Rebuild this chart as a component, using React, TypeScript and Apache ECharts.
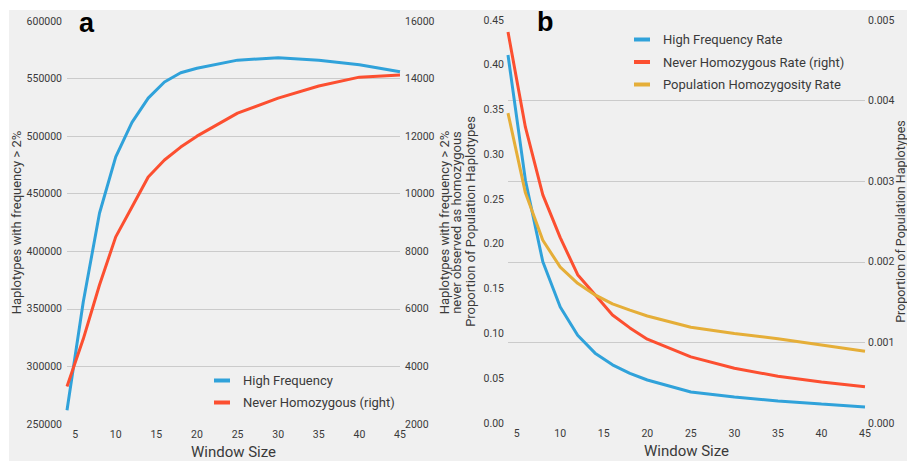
import React, { useEffect, useRef } from "react";
import * as echarts from "echarts";

const windowSizes = [4, 6, 8, 10, 12, 14, 16, 18, 20, 25, 30, 35, 40, 45];
const xTicks = [5, 10, 15, 20, 25, 30, 35, 40, 45];

const highFrequency = [262000, 356000, 433000, 482000, 512000, 533000, 547000, 555000, 559000, 566000, 568000, 566000, 562000, 556000];
const neverHomozygous = [3300, 4950, 6830, 8500, 9540, 10580, 11170, 11620, 12000, 12800, 13320, 13740, 14050, 14120];

const highFrequencyRate = [0.411, 0.271, 0.18, 0.1295, 0.098, 0.078, 0.065, 0.0555, 0.048, 0.0346, 0.029, 0.0246, 0.0212, 0.0179];
const neverHomozygousRate = [0.00485, 0.00367, 0.00283, 0.0023, 0.00184, 0.00159, 0.00134, 0.00118, 0.00104, 0.00082, 0.00068, 0.00058, 0.00051, 0.00045];
const populationHomozygosityRate = [0.346, 0.257, 0.204, 0.174, 0.156, 0.143, 0.133, 0.126, 0.1195, 0.107, 0.1, 0.094, 0.087, 0.08];

const BLUE = "#30a2da";
const RED = "#fc4f30";
const YELLOW = "#e5ae38";
const GRID = "#cbcbcb";
const LABEL = "#3a3a3a";
const FONT = "Roboto";

const pair = (ys: number[]) => windowSizes.map((x, i) => [x, ys[i]]);

export default function App() {
  const ref = useRef<HTMLDivElement>(null);
  useEffect(() => {
    document.body.style.margin = "0";
    const chart = echarts.init(ref.current!, null, { renderer: "svg" });
    const tickLabel = { color: LABEL, fontSize: 10.5, fontFamily: FONT };
    const xAxisCommon = {
      type: "value" as const,
      min: 4,
      max: 45,
      axisLine: { show: false },
      axisTick: { show: false },
      splitLine: { show: false },
      axisLabel: { ...tickLabel, margin: 5, customValues: xTicks, formatter: (v: number) => String(v) },
      name: "Window Size",
      nameLocation: "middle" as const,
      nameGap: 18,
      nameTextStyle: { fontSize: 15, color: LABEL, fontFamily: FONT },
    };
    const yNoLine = { axisLine: { show: false }, axisTick: { show: false } };
    const legendCommon = {
      orient: "vertical" as const,
      icon: "rect",
      itemWidth: 16,
      itemHeight: 4,
      padding: 0,
      textStyle: { fontSize: 13, color: LABEL, fontFamily: FONT, padding: [0, 0, 0, 8] },
    };
    chart.setOption({
      animation: false,
      backgroundColor: "#ffffff",
      textStyle: { fontFamily: FONT },
      graphic: [
        { type: "rect", z: -10, silent: true, shape: { x: 9, y: 10, width: 898, height: 451 }, style: { fill: "#f0f0f0" } },
        { type: "text", x: 79, y: 9, style: { text: "a", font: "bold 27px 'Liberation Sans', Arial", fill: "#000" } },
        { type: "text", x: 537, y: 8, style: { text: "b", font: "bold 27px 'Liberation Sans', Arial", fill: "#000" } },
      ],
      grid: [
        { left: 67, right: 507, top: 21, bottom: 37, outerBoundsMode: "none", containLabel: false },
        { left: 508, right: 42, top: 20, bottom: 38, outerBoundsMode: "none", containLabel: false },
      ],
      xAxis: [
        { ...xAxisCommon, gridIndex: 0 },
        { ...xAxisCommon, gridIndex: 1 },
      ],
      yAxis: [
        {
          ...yNoLine,
          gridIndex: 0,
          type: "value",
          position: "left",
          min: 250000,
          max: 600000,
          interval: 50000,
          axisLabel: { ...tickLabel, margin: 5, formatter: (v: number) => String(v) },
          splitLine: { show: true, showMinLine: false, showMaxLine: false, lineStyle: { color: GRID, width: 1 } },
          name: "Haplotypes with frequency > 2%",
          nameLocation: "middle",
          nameGap: 42,
          nameRotate: 90,
          nameTextStyle: { fontSize: 13, color: LABEL, fontFamily: FONT },
        },
        {
          ...yNoLine,
          gridIndex: 0,
          type: "value",
          position: "right",
          min: 2000,
          max: 16000,
          interval: 2000,
          axisLabel: { ...tickLabel, margin: 5, formatter: (v: number) => String(v) },
          splitLine: { show: false },
          name: "Haplotypes with frequency > 2%\nnever observed as homozygous",
          nameLocation: "middle",
          nameGap: 36,
          nameRotate: 90,
          nameTextStyle: { fontSize: 13, lineHeight: 11.5, color: LABEL, fontFamily: FONT },
        },
        {
          ...yNoLine,
          gridIndex: 1,
          type: "value",
          position: "left",
          min: 0,
          max: 0.45,
          interval: 0.05,
          axisLabel: { ...tickLabel, margin: 4, formatter: (v: number) => v.toFixed(2) },
          splitLine: { show: false },
          name: "Proportion of Population Haplotypes",
          nameLocation: "middle",
          nameGap: 31,
          nameRotate: 90,
          nameTextStyle: { fontSize: 13, color: LABEL, fontFamily: FONT },
        },
        {
          ...yNoLine,
          gridIndex: 1,
          type: "value",
          position: "right",
          min: 0,
          max: 0.005,
          interval: 0.001,
          axisLabel: { ...tickLabel, margin: 3, formatter: (v: number) => v.toFixed(3) },
          splitLine: { show: true, showMinLine: false, showMaxLine: false, lineStyle: { color: GRID, width: 1 } },
          name: "Proportion of Population Haplotypes",
          nameLocation: "middle",
          nameGap: 29,
          nameMoveOverlap: false,
          nameRotate: 90,
          nameTextStyle: { fontSize: 12.5, color: LABEL, fontFamily: FONT },
        },
      ],
      legend: [
        {
          ...legendCommon,
          data: ["High Frequency", "Never Homozygous (right)"],
          left: 214,
          top: 374,
          itemGap: 9,
        },
        {
          ...legendCommon,
          data: ["High Frequency Rate", "Never Homozygous Rate (right)", "Population Homozygosity Rate"],
          left: 634,
          top: 33,
          itemGap: 9.5,
        },
      ],
      series: [
        { name: "High Frequency", type: "line", xAxisIndex: 0, yAxisIndex: 0, data: pair(highFrequency), color: BLUE, showSymbol: false, lineStyle: { width: 3 } },
        { name: "Never Homozygous (right)", type: "line", xAxisIndex: 0, yAxisIndex: 1, data: pair(neverHomozygous), color: RED, showSymbol: false, lineStyle: { width: 3 } },
        { name: "High Frequency Rate", type: "line", xAxisIndex: 1, yAxisIndex: 2, data: pair(highFrequencyRate), color: BLUE, showSymbol: false, lineStyle: { width: 3 } },
        { name: "Never Homozygous Rate (right)", type: "line", xAxisIndex: 1, yAxisIndex: 3, data: pair(neverHomozygousRate), color: RED, showSymbol: false, lineStyle: { width: 3 } },
        { name: "Population Homozygosity Rate", type: "line", xAxisIndex: 1, yAxisIndex: 2, data: pair(populationHomozygosityRate), color: YELLOW, showSymbol: false, lineStyle: { width: 3 } },
      ],
    });
    return () => chart.dispose();
  }, []);
  return <div ref={ref} style={{ width: 907, height: 461 }} />;
}
